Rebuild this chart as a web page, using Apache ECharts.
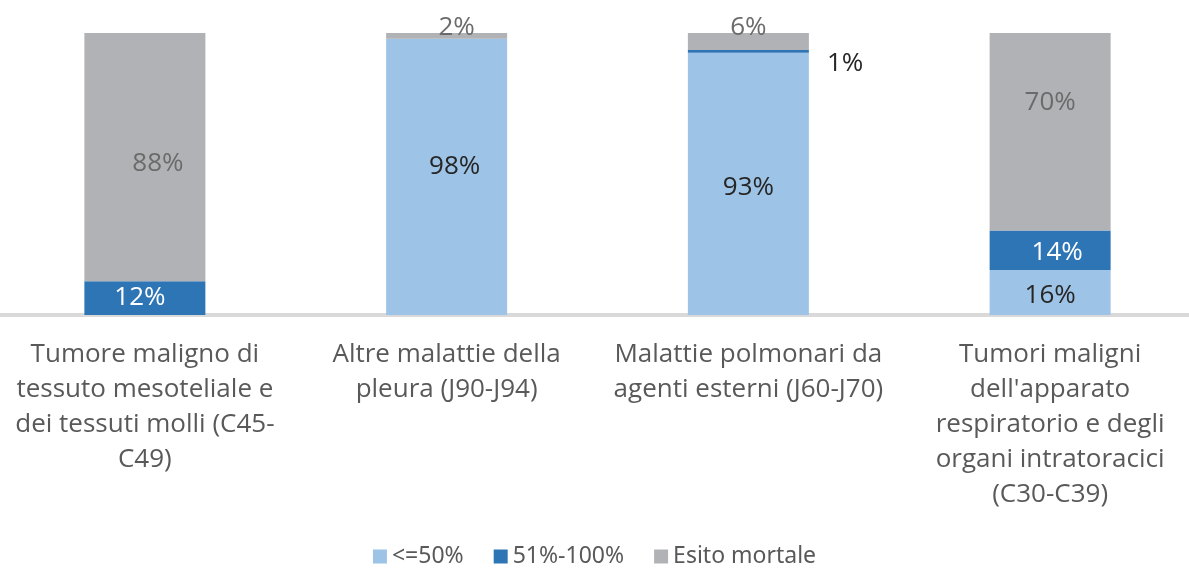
<!DOCTYPE html>
<html lang="it" style="height: 100%">
<head>
  <meta charset="utf-8">
</head>
<body style="height: 100%; margin: 0; background: #ffffff">
<div id="container" style="height: 100%"></div>
<script type="text/javascript" src="https://cdn.jsdelivr.net/npm/echarts@6/dist/echarts.min.js"></script>
<script type="text/javascript">
  // categorie e valori (percentuali)
  var categories = [
    'Tumore maligno di\ntessuto mesoteliale e\ndei tessuti molli (C45-\nC49)',
    'Altre malattie della\npleura (J90-J94)',
    'Malattie polmonari da\nagenti esterni (J60-J70)',
    "Tumori maligni\ndell'apparato\nrespiratorio e degli\norgani intratoracici\n(C30-C39)"
  ];
  var seriesNames = ['<=50%', '51%-100%', 'Esito mortale'];
  var lowValues = [0, 98, 93, 16];
  var highValues = [12, 0, 1, 14];
  var deathValues = [88, 2, 6, 70];

  var font = '"Open Sans", "DejaVu Sans", sans-serif';

  function pctLabel(p) {
    return p.value ? p.value + '%' : '';
  }

  // etichette spostate a mano come nel foglio originale
  function withLabel(values, tweaks) {
    return values.map(function (v, i) {
      return tweaks[i] ? { value: v, label: tweaks[i] } : v;
    });
  }

  var dom = document.getElementById('container');
  var myChart = echarts.init(dom, null, { renderer: 'canvas' });

  var option = {
    animation: false,
    textStyle: { fontFamily: font },
    grid: {
      left: -6,
      right: -12,
      top: 33,
      bottom: 254,
      outerBoundsMode: 'none',
      containLabel: false
    },
    legend: {
      bottom: -4,
      left: 'center',
      itemWidth: 14,
      itemHeight: 14,
      itemGap: 30,
      icon: 'rect',
      textStyle: { fontSize: 23, color: '#595959', fontFamily: '"Noto Sans", sans-serif' },
      data: seriesNames
    },
    xAxis: {
      type: 'category',
      data: categories,
      axisLine: { lineStyle: { color: '#d9d9d9', width: 4 } },
      axisTick: { show: false },
      axisLabel: {
        interval: 0,
        fontSize: 26,
        lineHeight: 35,
        color: '#595959',
        margin: 22,
        fontFamily: font
      }
    },
    yAxis: {
      type: 'value',
      min: 0,
      max: 100,
      show: false
    },
    series: [
      {
        name: seriesNames[0],
        type: 'bar',
        stack: 'tot',
        barWidth: 121,
        data: withLabel(lowValues, { 1: { offset: [8, -10] }, 2: { offset: [0, 4] }, 3: { offset: [0, 3] } }),
        itemStyle: { color: '#9dc3e6' },
        label: { show: true, position: 'inside', fontSize: 26, color: '#262626', formatter: pctLabel }
      },
      {
        name: seriesNames[1],
        type: 'bar',
        stack: 'tot',
        data: withLabel(highValues, {
          0: { offset: [-5, 0] },
          2: { position: 'right', distance: 18, offset: [0, 12], color: '#262626' },
          3: { offset: [7, 2] }
        }),
        itemStyle: { color: '#2e75b6' },
        label: { show: true, position: 'inside', fontSize: 26, color: '#ffffff', formatter: pctLabel }
      },
      {
        name: seriesNames[2],
        type: 'bar',
        stack: 'tot',
        data: withLabel(deathValues, {
          0: { offset: [13, 7] },
          1: { position: 'top', distance: -8, offset: [10, 0] },
          2: { position: 'top', distance: -8 },
          3: { offset: [0, -29] }
        }),
        itemStyle: { color: '#b1b2b6' },
        label: { show: true, position: 'inside', fontSize: 26, color: '#6b6b6b', formatter: pctLabel }
      }
    ]
  };

  myChart.setOption(option);
  window.addEventListener('resize', myChart.resize);
</script>
</body>
</html>
